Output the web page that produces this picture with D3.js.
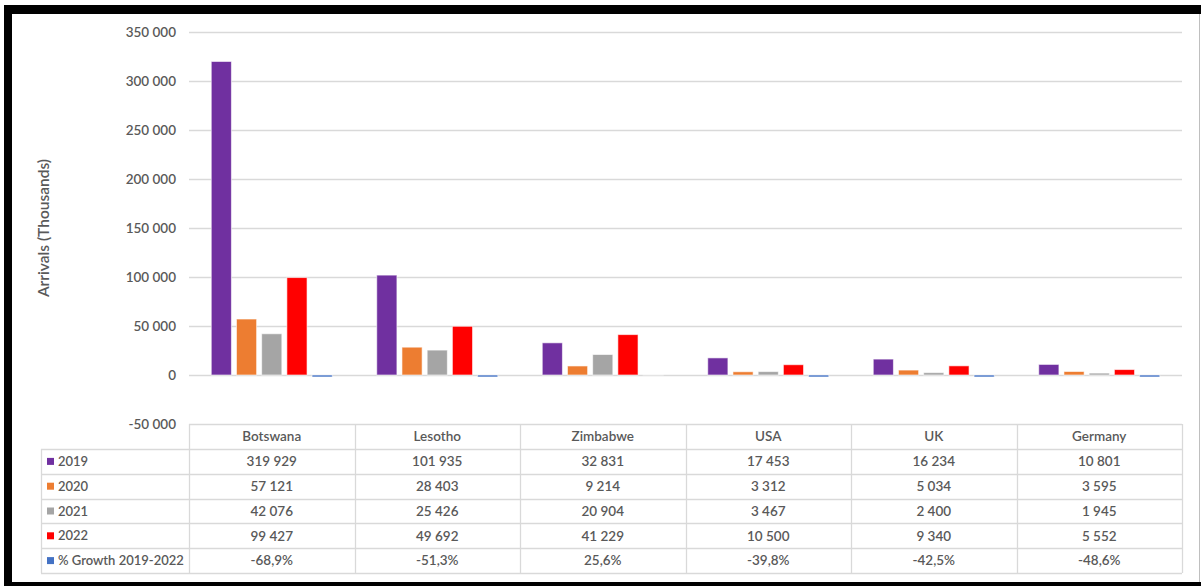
<!DOCTYPE html>
<html>
<head>
<meta charset="utf-8">
<script src="https://cdn.jsdelivr.net/npm/d3@7"></script>
<style>
  html, body { margin: 0; padding: 0; background: #fff; }
  svg { display: block; }
  text { font-family: Lato, "Open Sans", sans-serif; }
</style>
</head>
<body>
<svg id="chart" width="1201" height="586"></svg>
<script>
const categories = ["Botswana", "Lesotho", "Zimbabwe", "USA", "UK", "Germany"];
const seriesNames = ["2019", "2020", "2021", "2022", "% Growth 2019-2022"];
const v2019 = [319929, 101935, 32831, 17453, 16234, 10801];
const v2020 = [57121, 28403, 9214, 3312, 5034, 3595];
const v2021 = [42076, 25426, 20904, 3467, 2400, 1945];
const v2022 = [99427, 49692, 41229, 10500, 9340, 5552];
const growth = [-0.689, -0.513, 0.256, -0.398, -0.425, -0.486];
const yTicks = [-50000, 0, 50000, 100000, 150000, 200000, 250000, 300000, 350000];
const colors = ["#7030A0", "#ED7D31", "#A5A5A5", "#FF0000", "#4472C4"];
const yTitle = "Arrivals (Thousands)";

const seriesValues = [v2019, v2020, v2021, v2022, growth];

const loc = d3.formatLocale({decimal: ",", thousands: "\u00a0", grouping: [3], currency: ["", ""], minus: "-", percent: "%"});
const fmtNum = loc.format(",d");
const fmtPct = loc.format(".1%");
const fmtRow = seriesValues.map((s, i) => i === 4 ? fmtPct : fmtNum);

const svg = d3.select("#chart");
const fs = 13.5;

// frame
svg.append("rect").attr("x", 0).attr("y", 0).attr("width", 1201).attr("height", 586).attr("fill", "#fff");
svg.append("rect").attr("x", 4).attr("y", 5).attr("width", 1197).attr("height", 581).attr("fill", "#000");
svg.append("rect").attr("x", 12).attr("y", 14).attr("width", 1189).attr("height", 568).attr("fill", "#fff");
svg.append("line").attr("x1", 1199.5).attr("x2", 1199.5).attr("y1", 14).attr("y2", 582).attr("stroke", "#bfbfbf");

const plotLeft = 189, plotRight = 1182, plotTop = 32, plotBottom = 424;
const y = d3.scaleLinear().domain([-50000, 350000]).range([plotBottom, plotTop]);
const x = d3.scaleBand().domain(categories).range([plotLeft, plotRight]).padding(0);
const xi = d3.scaleBand().domain(d3.range(seriesNames.length)).paddingInner(0.2);

// gridlines
svg.append("g").selectAll("line").data(yTicks.filter(t => t > -50000)).join("line")
  .attr("x1", plotLeft).attr("x2", plotRight)
  .attr("y1", d => Math.round(y(d)) + 0.5).attr("y2", d => Math.round(y(d)) + 0.5)
  .attr("stroke", "#d9d9d9").attr("stroke-width", 1.3);

// y tick labels
svg.append("g").selectAll("text").data(yTicks).join("text")
  .attr("x", 176).attr("y", d => y(d)).attr("dy", "0.35em")
  .attr("text-anchor", "end").attr("font-size", fs).attr("font-weight", 600)
  .attr("fill", "#595959").text(d => fmtNum(d));

// y title
svg.append("text")
  .attr("transform", `translate(49,${(plotTop + plotBottom) / 2}) rotate(-90)`)
  .attr("text-anchor", "middle").attr("font-size", 15.5).attr("font-weight", 600)
  .attr("fill", "#595959").text(yTitle);

// bars
const groupW = 121;
const bars = [];
categories.forEach((c, ci) => {
  seriesValues.forEach((s, si) => bars.push({c, ci, si, v: s[ci]}));
});
svg.append("g").selectAll("rect").data(bars).join("rect")
  .attr("x", d => {
    const cx = x(d.c) + x.bandwidth() / 2;
    xi.range([cx - groupW / 2, cx + groupW / 2]);
    return xi(d.si);
  })
  .attr("width", () => xi.bandwidth())
  .attr("y", d => y(Math.max(d.v, 0)))
  .attr("height", d => {
    const h = Math.abs(y(d.v) - y(0));
    return d.v < 0 ? Math.max(h, 2) : h;
  })
  .attr("fill", d => colors[d.si])
  .attr("stroke", "#fff").attr("stroke-opacity", 0.6).attr("stroke-width", 1);

// data table
const rowTop = 424, headH = 25, rowH = 24.8, legendLeft = 41;
const tbl = svg.append("g");
const lineColor = "#d9d9d9";
const nRows = seriesNames.length;
const tableBottom = rowTop + headH + nRows * rowH;
tbl.append("line").attr("x1", plotLeft).attr("x2", plotRight).attr("y1", rowTop + 0.5).attr("y2", rowTop + 0.5).attr("stroke", lineColor).attr("stroke-width", 1.3);
d3.range(nRows + 1).forEach(i => {
  const yy = Math.round(rowTop + headH + i * rowH) + 0.5;
  tbl.append("line").attr("x1", legendLeft).attr("x2", plotRight).attr("y1", yy).attr("y2", yy).attr("stroke", lineColor).attr("stroke-width", 1.3);
});
tbl.append("line").attr("x1", legendLeft + 0.5).attr("x2", legendLeft + 0.5).attr("y1", rowTop + headH).attr("y2", tableBottom).attr("stroke", lineColor).attr("stroke-width", 1.3);
tbl.selectAll("line.v").data(categories.concat(["end"])).join("line").attr("class", "v")
  .attr("x1", (d, i) => Math.round(i < categories.length ? x(d) : plotRight) + 0.5)
  .attr("x2", (d, i) => Math.round(i < categories.length ? x(d) : plotRight) + 0.5)
  .attr("y1", rowTop).attr("y2", tableBottom).attr("stroke", lineColor).attr("stroke-width", 1.3);
tbl.selectAll("text.h").data(categories).join("text").attr("class", "h")
  .attr("x", d => x(d) + x.bandwidth() / 2).attr("y", rowTop + headH / 2).attr("dy", "0.35em")
  .attr("text-anchor", "middle").attr("font-size", fs).attr("font-weight", 600).attr("fill", "#595959").text(d => d);
seriesNames.forEach((name, si) => {
  const cy = rowTop + headH + si * rowH + rowH / 2;
  tbl.append("rect").attr("x", 47).attr("y", cy - 3.5).attr("width", 7).attr("height", 7).attr("fill", colors[si]);
  tbl.append("text").attr("x", 58).attr("y", cy).attr("dy", "0.35em")
    .attr("font-size", 13).attr("font-weight", 600).attr("fill", "#595959").text(name);
  tbl.selectAll(null).data(categories).join("text")
    .attr("x", d => x(d) + x.bandwidth() / 2).attr("y", cy).attr("dy", "0.35em")
    .attr("text-anchor", "middle").attr("font-size", fs).attr("font-weight", 600).attr("fill", "#595959")
    .text((d, ci) => fmtRow[si](seriesValues[si][ci]));
});
</script>
</body>
</html>
